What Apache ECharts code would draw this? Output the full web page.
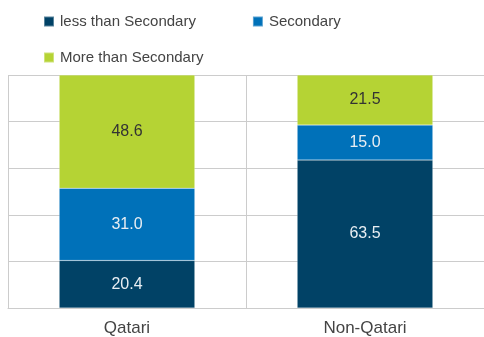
<!DOCTYPE html>
<html><head><meta charset="utf-8">
<script src="https://cdn.jsdelivr.net/npm/echarts@6/dist/echarts.min.js"></script>
<style>html,body{margin:0;padding:0;background:#fff}#c{width:484px;height:337px}</style>
</head><body><div id="c"></div>
<script>
const categories = ['Qatari', 'Non-Qatari'];
const seriesNames = ['less than Secondary', 'Secondary', 'More than Secondary'];
const lessThanSecondary = [20.4, 63.5];
const secondary = [31.0, 15.0];
const moreThanSecondary = [48.6, 21.5];
const yTicks = [0, 20, 40, 60, 80, 100];

const colors = ['#014266', '#0071b9', '#b5d334'];
const labelColors = ['#e8eef3', '#e8eef3', '#333333'];
const values = [lessThanSecondary, secondary, moreThanSecondary];

const chart = echarts.init(document.getElementById('c'));
chart.setOption({
  animation: false,
  textStyle: { fontFamily: 'Liberation Sans, Arial, sans-serif' },
  legend: [
    { left: 38, top: 9, itemWidth: 10, itemHeight: 10, itemGap: 56, icon: 'rect',
      data: [seriesNames[0], seriesNames[1]],
      textStyle: { fontSize: 15, color: '#444', padding: [0,0,0,1] } },
    { left: 38, top: 45, itemWidth: 10, itemHeight: 10, icon: 'rect',
      data: [seriesNames[2]],
      textStyle: { fontSize: 15, color: '#444', padding: [0,0,0,1] } }
  ],
  grid: { left: 8, top: 75, width: 478, height: 235, containLabel: false },
  xAxis: {
    type: 'category', data: categories,
    axisLine: { show: true, lineStyle: { color: '#cccccc' } },
    axisTick: { show: false },
    splitLine: { show: true, lineStyle: { color: '#cccccc' } },
    axisLabel: { fontSize: 17, color: '#444', margin: 12 }
  },
  yAxis: {
    type: 'value', min: yTicks[0], max: yTicks[yTicks.length - 1], interval: 20,
    axisLabel: { show: false }, axisTick: { show: false },
    axisLine: { show: false },
    splitLine: { show: true, lineStyle: { color: '#cccccc' } }
  },
  series: seriesNames.map((name, i) => ({
    name, type: 'bar', stack: 'total', barWidth: '57%',
    data: values[i],
    itemStyle: { color: colors[i], borderColor: 'rgba(255,255,255,0.35)', borderWidth: 0.5 },
    label: { show: true, position: 'inside', fontSize: 16, color: labelColors[i],
      formatter: p => p.value.toFixed(1) }
  }))
});
</script></body></html>
